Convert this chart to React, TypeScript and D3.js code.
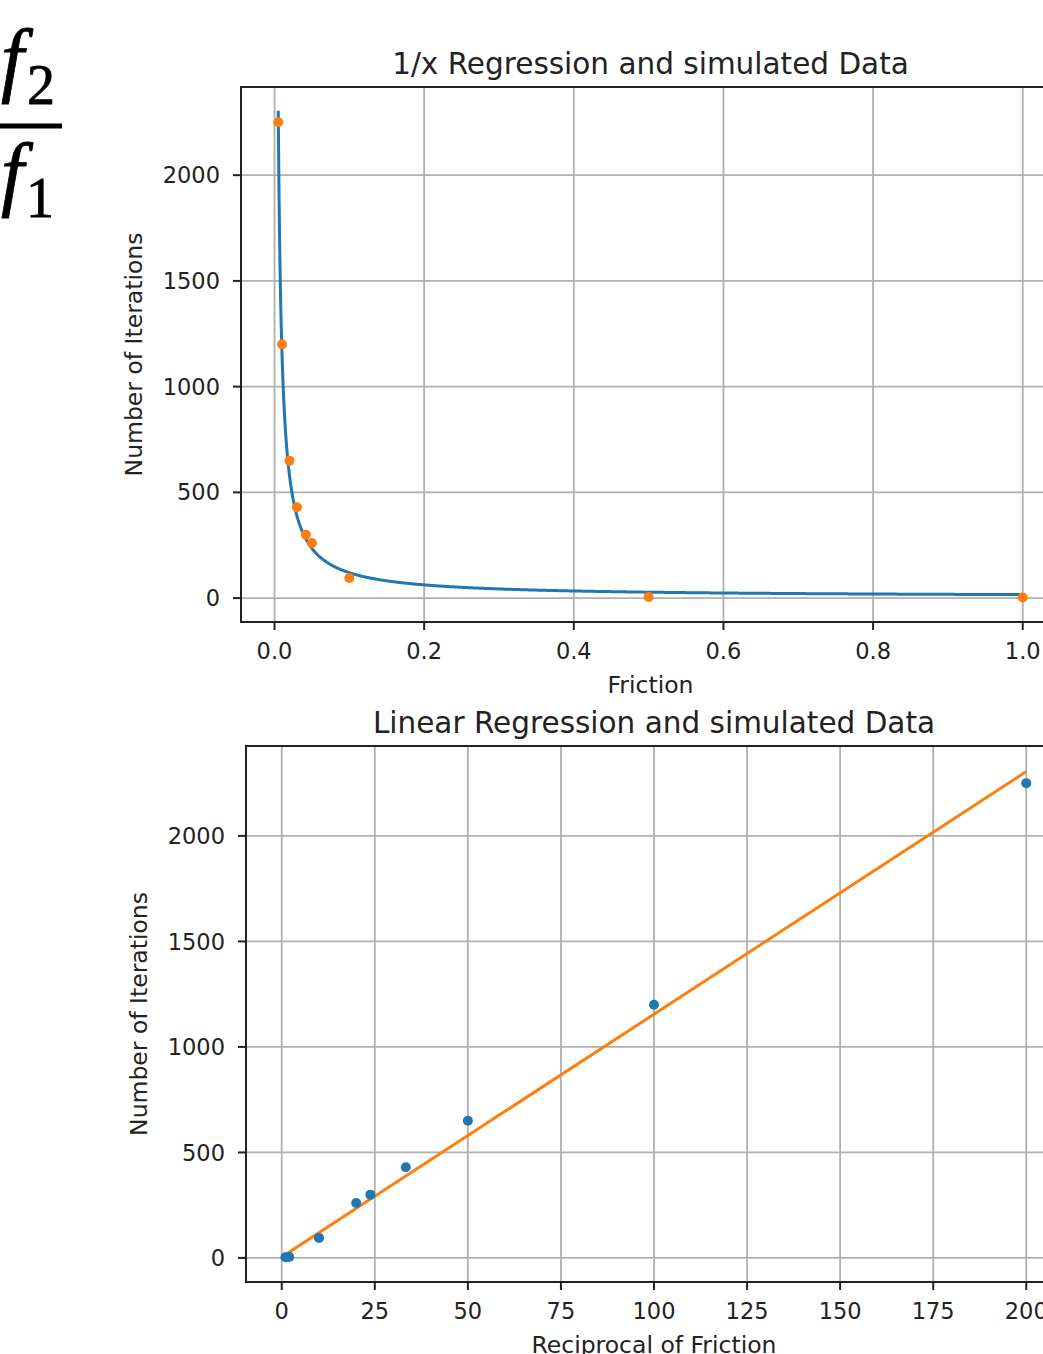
import React from 'react';
import * as d3 from 'd3';

// simulated runs: friction coefficient vs iterations needed
const friction = [0.005, 0.01, 0.02, 0.03, 0.042, 0.05, 0.1, 0.5, 1.0];
const iterations = [2250, 1200, 650, 430, 300, 260, 95, 5, 3];

// fitted model: iterations = fitA * (1/friction) + fitB
const fitA = 11.5;
const fitB = 5;

const topXTicks = [0, 0.2, 0.4, 0.6, 0.8, 1.0];
const bottomXTicks = [0, 25, 50, 75, 100, 125, 150, 175, 200];
const yTicks = [0, 500, 1000, 1500, 2000];

const topXLim = [-0.0448, 1.0498];
const topYLim = [-113, 2417];
const bottomXLim = [-9.6, 209.6];
const bottomYLim = [-114, 2426];

const BLUE = '#1f77b4';
const ORANGE = '#ff7f0e';
const FONT = 'DejaVu Sans';
const TEXT = '#222';

const Panel = ({ id, left, right, top, bottom, xLim, yLim, xTicks, xFormat, title, xLabel, yLabel, marks }) => {
    const x = d3.scaleLinear().domain(xLim).range([left, right]);
    const y = d3.scaleLinear().domain(yLim).range([bottom, top]);
    const midY = (top + bottom) / 2;
    const midX = (left + right) / 2;

    return (
        <g>
            <defs>
                <clipPath id={id}>
                    <rect x={left} y={top} width={right - left} height={bottom - top} />
                </clipPath>
            </defs>
            {/* grid */}
            {xTicks.map(t => (
                <line key={'gx' + t} x1={x(t)} x2={x(t)} y1={top} y2={bottom} stroke="#b0b0b0" strokeWidth={1.8} />
            ))}
            {yTicks.map(t => (
                <line key={'gy' + t} x1={left} x2={right} y1={y(t)} y2={y(t)} stroke="#b0b0b0" strokeWidth={1.8} />
            ))}
            <g clipPath={`url(#${id})`}>{marks(x, y)}</g>
            {/* spines */}
            <rect x={left} y={top} width={right - left} height={bottom - top} fill="none" stroke="#222" strokeWidth={2} />
            {/* ticks */}
            {xTicks.map(t => (
                <g key={'tx' + t}>
                    <line x1={x(t)} x2={x(t)} y1={bottom} y2={bottom + 8} stroke="#222" strokeWidth={2} />
                    <text x={x(t)} y={bottom + 37} textAnchor="middle" fontSize={22.5} fontFamily={FONT} fill={TEXT}>
                        {xFormat(t)}
                    </text>
                </g>
            ))}
            {yTicks.map(t => (
                <g key={'ty' + t}>
                    <line x1={left - 8} x2={left} y1={y(t)} y2={y(t)} stroke="#222" strokeWidth={2} />
                    <text x={left - 21} y={y(t)} dy="0.36em" textAnchor="end" fontSize={22.5} fontFamily={FONT} fill={TEXT}>
                        {t}
                    </text>
                </g>
            ))}
            <text x={midX} y={top - 13} textAnchor="middle" fontSize={29.5} fontFamily={FONT} fill={TEXT}>{title}</text>
            <text x={midX} y={bottom + 71} textAnchor="middle" fontSize={23.5} fontFamily={FONT} fill={TEXT}>{xLabel}</text>
            <text transform={`translate(${left - 99},${midY}) rotate(-90)`} textAnchor="middle" fontSize={23.5} fontFamily={FONT} fill={TEXT}>
                {yLabel}
            </text>
        </g>
    );
};

const App = () => {
    const pts = friction.map((f, i) => ({ f, r: 1 / f, n: iterations[i] }));
    const curveX = d3.range(0.005, 1.0005, 0.0005);
    const lineX = [0, 200];

    return (
        <svg width={1043} height={1354} style={{ position: 'absolute', left: 0, top: 0, background: '#fff' }}>
            <rect width={1043} height={1354} fill="#fff" />
            {/* fraction from the surrounding document */}
            <g fontFamily="Liberation Serif" fill="#000" stroke="#000" strokeWidth={0.8}>
                <text x={1} y={86} fontSize={82} fontStyle="italic">f</text>
                <text x={27} y={104} fontSize={56}>2</text>
                <line x1={0} x2={62} y1={126} y2={126} strokeWidth={5} />
                <text x={1} y={200} fontSize={82} fontStyle="italic">f</text>
                <text x={26} y={217} fontSize={56}>1</text>
            </g>

            <Panel
                id="clipTop" left={241} right={1060} top={87} bottom={622}
                xLim={topXLim} yLim={topYLim} xTicks={topXTicks} xFormat={d3.format('.1f')}
                title="1/x Regression and simulated Data" xLabel="Friction" yLabel="Number of Iterations"
                marks={(x, y) => (
                    <g>
                        <path
                            d={d3.line().x(d => x(d)).y(d => y(fitA / d + fitB))(curveX)}
                            fill="none" stroke={BLUE} strokeWidth={3}
                        />
                        {pts.map((p, i) => (
                            <circle key={i} cx={x(p.f)} cy={y(p.n)} r={5} fill={ORANGE} />
                        ))}
                    </g>
                )}
            />

            <Panel
                id="clipBottom" left={246} right={1062} top={746} bottom={1282}
                xLim={bottomXLim} yLim={bottomYLim} xTicks={bottomXTicks} xFormat={d3.format('d')}
                title="Linear Regression and simulated Data" xLabel="Reciprocal of Friction" yLabel="Number of Iterations"
                marks={(x, y) => (
                    <g>
                        <path
                            d={d3.line().x(d => x(d)).y(d => y(fitA * d + fitB))(lineX)}
                            fill="none" stroke={ORANGE} strokeWidth={3}
                        />
                        {pts.map((p, i) => (
                            <circle key={i} cx={x(p.r)} cy={y(p.n)} r={5} fill={BLUE} />
                        ))}
                    </g>
                )}
            />
        </svg>
    );
};

export default App;
